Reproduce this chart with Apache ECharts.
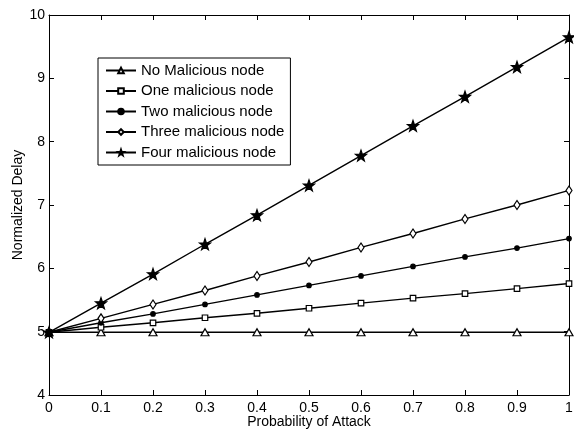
<!DOCTYPE html>
<html><head><meta charset="utf-8">
<script src="https://cdn.jsdelivr.net/npm/echarts@6/dist/echarts.min.js"></script>
<style>html,body{margin:0;padding:0;background:#fff;overflow:hidden}#c{width:574px;height:429px}</style>
</head><body><div id="c"></div>
<script>
const xValues = [0, 0.1, 0.2, 0.3, 0.4, 0.5, 0.6, 0.7, 0.8, 0.9, 1];
const xTickLabels = ["0", "0.1", "0.2", "0.3", "0.4", "0.5", "0.6", "0.7", "0.8", "0.9", "1"];
const seriesNames = ["No Malicious node", "One malicious node", "Two malicious node", "Three malicious node", "Four malicious node"];
const noMalicious = [4.99, 4.99, 4.99, 4.99, 4.99, 4.99, 4.99, 4.99, 4.99, 4.99, 4.99];
const oneMalicious = [4.99, 5.07, 5.14, 5.22, 5.29, 5.37, 5.45, 5.53, 5.60, 5.68, 5.76];
const twoMalicious = [4.99, 5.14, 5.28, 5.43, 5.58, 5.73, 5.88, 6.03, 6.18, 6.32, 6.47];
const threeMalicious = [4.99, 5.21, 5.43, 5.65, 5.88, 6.10, 6.33, 6.55, 6.78, 7.00, 7.23];
const fourMalicious = [4.99, 5.45, 5.91, 6.38, 6.84, 7.31, 7.78, 8.25, 8.71, 9.18, 9.65];

const STAR = 'path://M0,-10 L2.35,-3.24 L9.51,-3.09 L3.8,1.24 L5.88,8.09 L0,4 L-5.88,8.09 L-3.8,1.24 L-9.51,-3.09 L-2.35,-3.24 Z';
const font = 'Liberation Sans, Arial, sans-serif';
const seriesData = [noMalicious, oneMalicious, twoMalicious, threeMalicious, fourMalicious];
const symbols = ['triangle', 'rect', 'circle', 'diamond', STAR];
const sizes = [[8,7], 5.5, 4.5, [6,9], 11];
const fills = ['#fff', '#fff', '#000', '#fff', '#000'];

const chart = echarts.init(document.getElementById('c'), null, {renderer: 'canvas', width: 574, height: 429});
const axisCommon = () => ({
  axisLine: {onZero: false, lineStyle: {color: '#000', width: 1}},
  axisTick: {inside: true, length: 5, lineStyle: {color: '#000'}},
  splitLine: {show: false},
  nameMoveOverlap: false
});
chart.setOption({
  animation: false,
  backgroundColor: '#fff',
  grid: {left: 49, right: 5, top: 15, bottom: 34, containLabel: false, outerBoundsMode: 'none'},
  legend: {
    left: 98, top: 58, orient: 'vertical',
    data: seriesNames,
    itemWidth: 30, itemHeight: 7, itemGap: 5.5,
    borderColor: '#000', borderWidth: 1, backgroundColor: '#fff',
    padding: [5, 6, 5, 7],
    textStyle: {fontFamily: font, fontSize: 15, lineHeight: 14, color: '#000'}
  },
  xAxis: [
    Object.assign({type: 'value', min: 0, max: 1, interval: 0.1, position: 'bottom',
      name: 'Probability of Attack', nameLocation: 'middle', nameGap: 20,
      nameTextStyle: {fontFamily: font, fontSize: 14, color: '#000'},
      axisLabel: {fontFamily: font, fontSize: 14, color: '#000', margin: 6,
        formatter: v => xTickLabels[Math.round(v * 10)]}}, axisCommon()),
    Object.assign({type: 'value', min: 0, max: 1, interval: 0.1, position: 'top',
      axisLabel: {show: false}}, axisCommon())
  ],
  yAxis: [
    Object.assign({type: 'value', min: 4, max: 10, interval: 1, position: 'left',
      name: 'Normalized Delay', nameLocation: 'middle', nameGap: 24,
      nameTextStyle: {fontFamily: font, fontSize: 14, color: '#000'},
      axisLabel: {fontFamily: font, fontSize: 14, color: '#000', margin: 4}}, axisCommon()),
    Object.assign({type: 'value', min: 4, max: 10, interval: 1, position: 'right',
      axisLabel: {show: false}}, axisCommon())
  ],
  series: seriesNames.map((n, i) => ({
    name: n, type: 'line',
    data: xValues.map((x, j) => [x, seriesData[i][j]]),
    symbol: symbols[i], symbolSize: sizes[i], showAllSymbol: true,
    lineStyle: {color: '#000', width: 1.4},
    itemStyle: {color: fills[i], borderColor: '#000', borderWidth: 1.2},
    z: 2 + i
  }))
});
</script></body></html>
